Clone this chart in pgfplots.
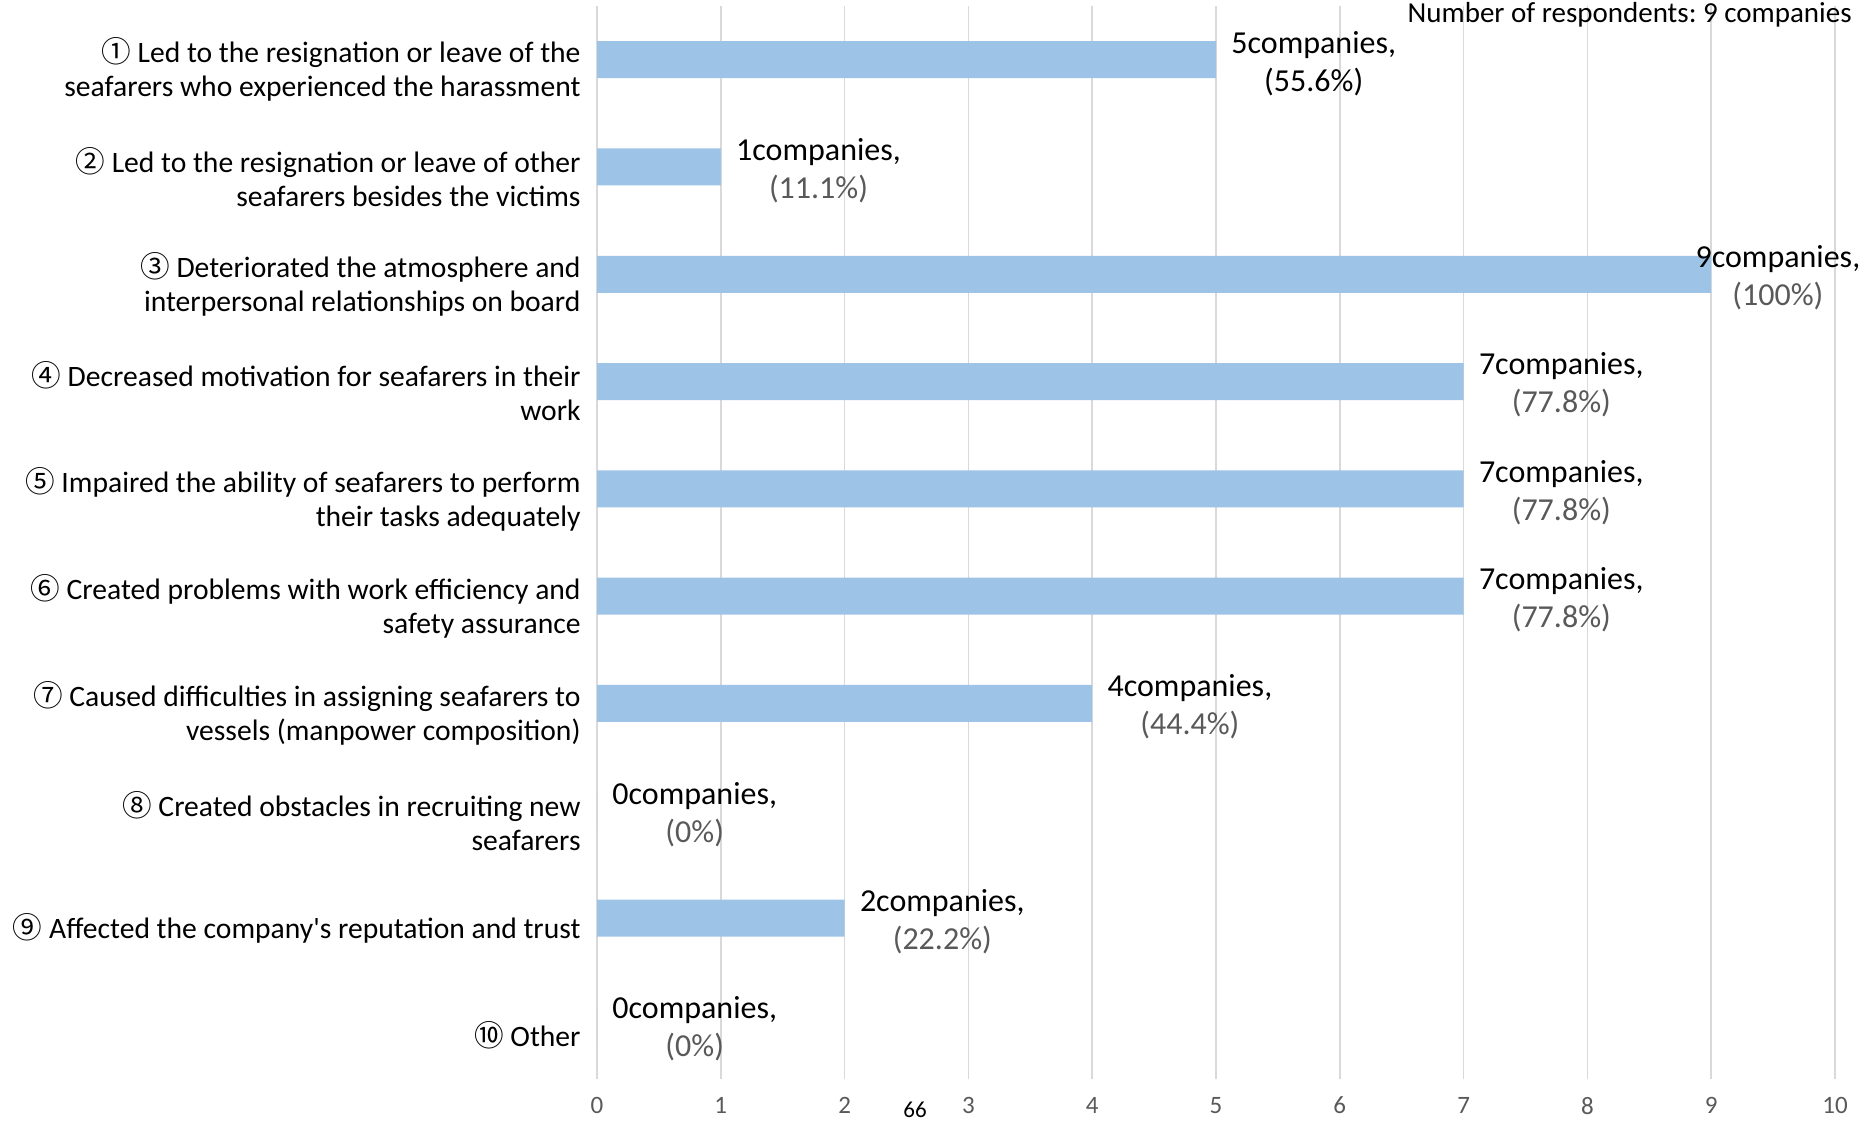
\documentclass[border=0pt]{standalone}
\usepackage{pgfplots}
\pgfplotsset{compat=1.18}
\usepackage{pgfplotstable}
\usepackage{fontspec}
\setmainfont{Carlito}
\newfontfamily\plainfont{Carlito}
\newfontfamily\cjk{Noto Sans CJK JP}
\definecolor{barblue}{RGB}{157,195,230}
\definecolor{gridgray}{RGB}{217,217,217}
\definecolor{ticgray}{RGB}{89,89,89}
\definecolor{pctgray}{RGB}{89,89,89}
\tikzset{dl/.style={anchor=west, align=center, inner sep=0pt, xshift=7.5pt, yshift=-1.8pt, font=\fontsize{16}{19}\selectfont}}
\newcommand{\tk}[1]{{\fontsize{12.5}{14}\selectfont #1}}
\frenchspacing

\pgfplotstableread{
cat val
1 5
2 1
3 9
4 7
5 7
6 7
7 4
8 0
9 2
10 0
}\datatable

\begin{document}
\begin{tikzpicture}
\path[use as bounding box] (0,0) rectangle (933pt,560.5pt);
\begin{axis}[
  at={(298.5pt,21pt)}, anchor=south west,
  scale only axis, width=619pt, height=536.5pt,
  xbar, bar width=18.5pt,
  xmin=0, xmax=10, ymin=0.5, ymax=10.5, y dir=reverse,
  axis line style={draw=none},
  major tick length=0pt,
  xmajorgrids, grid style={gridgray, line width=0.8pt},
  xtick={0,1,...,10},
  xticklabels={\tk{0},\tk{1},\tk{2},\tk{3},\tk{4},\tk{5},\tk{6},\tk{7},\tk{8},\tk{9},\tk{10}},
  xticklabel style={text=ticgray, yshift=-5.5pt},
  ytick={1,2,...,10},
  yticklabels={
    {{\cjk ①} Led to the resignation or leave of the\\seafarers who experienced the harassment},
    {{\cjk ②} Led to the resignation or leave of other\\seafarers besides the victims},
    {{\cjk ③} Deteriorated the atmosphere and\\interpersonal relationships on board},
    {{\cjk ④} Decreased motivation for seafarers in their\\work},
    {{\cjk ⑤} Impaired the ability of seafarers to perform\\their tasks adequately},
    {{\cjk ⑥} Created problems with work efficiency and\\safety assurance},
    {{\cjk ⑦} Caused difficulties in assigning seafarers to\\vessels (manpower composition)},
    {{\cjk ⑧} Created obstacles in recruiting new\\seafarers},
    {{\cjk ⑨} Affected the company{\plainfont '}s reputation and trust},
    {{\cjk ⑩} Other}
  },
  yticklabel style={align=right, font=\fontsize{14.8}{17}\selectfont, yshift=-5pt, xshift=-4.7pt},
  clip=false,
]
\addplot[fill=barblue, draw=none] table[x=val, y=cat] {\datatable};
\node[dl] at (axis cs:5,1) {5companies,\\(55.6\%)};
\node[dl] at (axis cs:1,2) {1companies,\\{\color{pctgray}(11.1\%)}};
\node[dl, xshift=-15.5pt] at (axis cs:9,3) {9companies,\\{\color{pctgray}(100\%)}};
\node[dl] at (axis cs:7,4) {7companies,\\{\color{pctgray}(77.8\%)}};
\node[dl] at (axis cs:7,5) {7companies,\\{\color{pctgray}(77.8\%)}};
\node[dl] at (axis cs:7,6) {7companies,\\{\color{pctgray}(77.8\%)}};
\node[dl] at (axis cs:4,7) {4companies,\\{\color{pctgray}(44.4\%)}};
\node[dl] at (axis cs:0,8) {0companies,\\{\color{pctgray}(0\%)}};
\node[dl] at (axis cs:2,9) {2companies,\\{\color{pctgray}(22.2\%)}};
\node[dl] at (axis cs:0,10) {0companies,\\{\color{pctgray}(0\%)}};
\end{axis}
\node[anchor=east, inner sep=0pt, font=\fontsize{14.5}{17}\selectfont] at (926pt,553pt) {Number of respondents: 9 companies};
\node[anchor=base, inner sep=0pt, font=\fontsize{11.5}{13}\selectfont] at (457.5pt,2pt) {66};
\end{tikzpicture}
\end{document}
